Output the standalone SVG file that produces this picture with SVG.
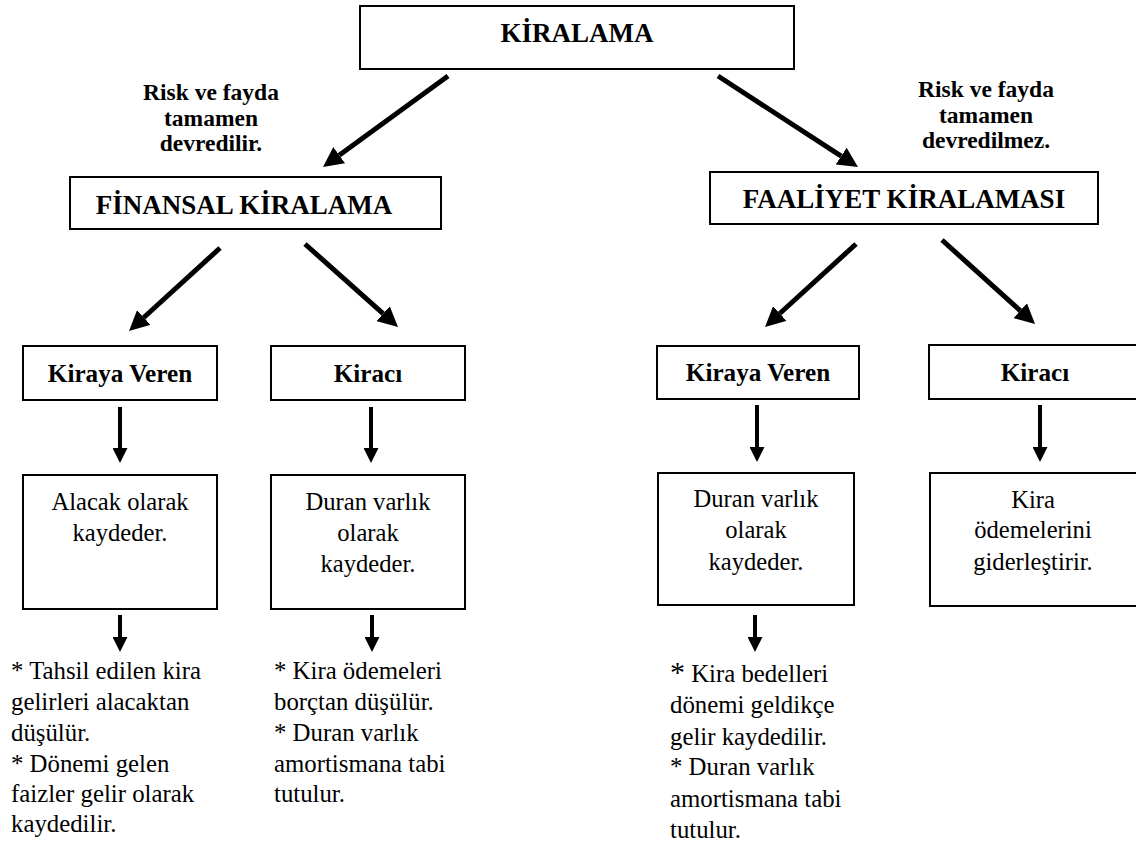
<svg xmlns="http://www.w3.org/2000/svg" width="1136" height="843" viewBox="0 0 1136 843">
<style>
text{font-family:'Liberation Serif','Times New Roman',serif;fill:#000}
.box{fill:#fff;stroke:#000;stroke-width:2}
.h{font-weight:bold;font-size:27px;text-anchor:middle}
.b{font-weight:bold;font-size:25.2px;text-anchor:middle}
.lbl{font-weight:bold;font-size:23.5px;text-anchor:middle}
.t{font-size:24.6px;text-anchor:middle}
.n{font-size:24.8px}
.d{stroke:#000;stroke-width:5;fill:none;marker-end:url(#hd)}
.v{stroke:#000;stroke-width:4;fill:none;marker-end:url(#hv)}
</style>
<defs>
<marker id="hd" markerUnits="userSpaceOnUse" markerWidth="20" markerHeight="20" refX="0" refY="10" orient="auto" viewBox="0 0 20 20"><path d="M0,0 L20,10 L0,20 z" fill="#000"/></marker>
<marker id="hv" markerUnits="userSpaceOnUse" markerWidth="15" markerHeight="15" refX="0" refY="7.5" orient="auto" viewBox="0 0 15 15"><path d="M0,0 L15,7.5 L0,15 z" fill="#000"/></marker>
</defs>
<rect width="1136" height="843" fill="#fff"/>

<g id="connectors">
<line class="d" x1="448" y1="76" x2="339.2" y2="155.2"/>
<line class="d" x1="718" y1="76" x2="841.2" y2="156.1"/>
<line class="d" x1="220" y1="248" x2="143.8" y2="317.5"/>
<line class="d" x1="305" y1="244" x2="383.1" y2="313.7"/>
<line class="d" x1="856" y1="244" x2="779.8" y2="313.5"/>
<line class="d" x1="942" y1="240" x2="1020.2" y2="310.6"/>
<line class="v" x1="120" y1="407" x2="120" y2="448"/>
<line class="v" x1="371" y1="407" x2="371" y2="448"/>
<line class="v" x1="757" y1="405" x2="757" y2="447"/>
<line class="v" x1="1040" y1="405" x2="1040" y2="447"/>
<line class="v" x1="120" y1="615" x2="120" y2="637"/>
<line class="v" x1="372" y1="615" x2="372" y2="637"/>
<line class="v" x1="755" y1="615" x2="755" y2="637"/>
</g>

<g id="kiralama"><rect class="box" x="360" y="6" width="434" height="63"/><text class="h" x="577" y="42">KİRALAMA</text></g>

<g id="label-left"><text class="lbl" x="211" y="100">Risk ve fayda</text><text class="lbl" x="211" y="125.5">tamamen</text><text class="lbl" x="211" y="151">devredilir.</text></g>
<g id="label-right"><text class="lbl" x="986" y="97">Risk ve fayda</text><text class="lbl" x="986" y="122.5">tamamen</text><text class="lbl" x="986" y="148">devredilmez.</text></g>

<g id="finansal"><rect class="box" x="70" y="177" width="371" height="52"/><text class="h" x="244" y="214" font-size="28.5">FİNANSAL KİRALAMA</text></g>
<g id="faaliyet"><rect class="box" x="710" y="172" width="388" height="52"/><text class="h" x="904" y="208">FAALİYET KİRALAMASI</text></g>

<g id="f-veren"><rect class="box" x="23" y="346" width="194" height="54"/><text class="b" x="120" y="382">Kiraya Veren</text></g>
<g id="f-kiraci"><rect class="box" x="271" y="346" width="194" height="54"/><text class="b" x="368" y="382">Kiracı</text></g>
<g id="o-veren"><rect class="box" x="657" y="346" width="202" height="53"/><text class="b" x="758" y="381">Kiraya Veren</text></g>
<g id="o-kiraci"><rect class="box" x="929" y="345" width="215" height="54"/><text class="b" x="1035" y="381">Kiracı</text></g>

<g id="f-veren-kayit"><rect class="box" x="23" y="475" width="194" height="134"/><text class="t" x="120" y="510">Alacak olarak</text><text class="t" x="120" y="541">kaydeder.</text></g>
<g id="f-kiraci-kayit"><rect class="box" x="271" y="475" width="194" height="134"/><text class="t" x="368" y="510">Duran varlık</text><text class="t" x="368" y="541">olarak</text><text class="t" x="368" y="572">kaydeder.</text></g>
<g id="o-veren-kayit"><rect class="box" x="658" y="473" width="196" height="132"/><text class="t" x="756" y="507">Duran varlık</text><text class="t" x="756" y="538">olarak</text><text class="t" x="756" y="570">kaydeder.</text></g>
<g id="o-kiraci-kayit"><rect class="box" x="930" y="473" width="214" height="133"/><text class="t" x="1033" y="508">Kira</text><text class="t" x="1033" y="538">ödemelerini</text><text class="t" x="1033" y="570">giderleştirir.</text></g>

<g id="f-veren-not"><text class="n" x="11" y="679">* Tahsil edilen kira</text><text class="n" x="11" y="710">gelirleri alacaktan</text><text class="n" x="11" y="741">düşülür.</text><text class="n" x="11" y="772">* Dönemi gelen</text><text class="n" x="11" y="802">faizler gelir olarak</text><text class="n" x="11" y="832">kaydedilir.</text></g>
<g id="f-kiraci-not"><text class="n" x="274" y="679">* Kira ödemeleri</text><text class="n" x="274" y="710">borçtan düşülür.</text><text class="n" x="274" y="741">* Duran varlık</text><text class="n" x="274" y="772">amortismana tabi</text><text class="n" x="274" y="802">tutulur.</text></g>
<g id="o-veren-not"><text class="n" x="670" y="682"><tspan font-size="30">*</tspan> Kira bedelleri</text><text class="n" x="670" y="713">dönemi geldikçe</text><text class="n" x="670" y="745">gelir kaydedilir.</text><text class="n" x="670" y="775">* Duran varlık</text><text class="n" x="670" y="807">amortismana tabi</text><text class="n" x="670" y="838">tutulur.</text></g>
</svg>
